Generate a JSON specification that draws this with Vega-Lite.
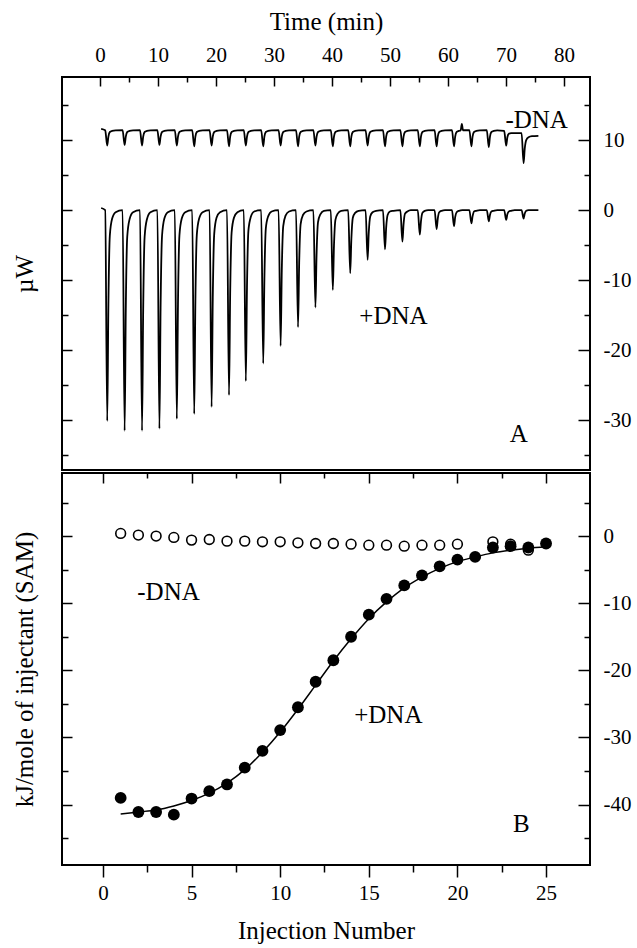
{
  "$schema": "https://vega.github.io/schema/vega-lite/v6.json",
  "background": "white",
  "padding": {"left": 11, "top": 8, "right": 5, "bottom": 0},
  "spacing": 0,
  "config": {
    "view": {"stroke": "black", "strokeWidth": 2},
    "font": "Liberation Serif",
    "axis": {"domain": false, "grid": false, "labelFont": "Liberation Serif", "titleFont": "Liberation Serif", "labelFontSize": 21, "titleFontSize": 25, "titleFontWeight": "normal", "labelColor": "black", "titleColor": "black", "tickColor": "black", "tickWidth": 1.5, "labelFlush": false, "labelOverlap": false}
  },
  "datasets": {
    "plus": [
      {"t":0.2,"v":0.3},
      {"t":0.9,"v":0},{"t":1.25,"v":-30.1},{"t":1.45,"v":-13.5},{"t":1.7,"v":-3.6},{"t":2.1,"v":-1.2},{"t":2.7,"v":-0.3},
      {"t":3.9,"v":0},{"t":4.25,"v":-31.5},{"t":4.45,"v":-14.2},{"t":4.7,"v":-3.8},{"t":5.1,"v":-1.3},{"t":5.7,"v":-0.3},
      {"t":6.9,"v":0},{"t":7.25,"v":-31.5},{"t":7.45,"v":-14.2},{"t":7.7,"v":-3.8},{"t":8.1,"v":-1.3},{"t":8.7,"v":-0.3},
      {"t":9.9,"v":0},{"t":10.25,"v":-31.2},{"t":10.45,"v":-14.0},{"t":10.7,"v":-3.7},{"t":11.1,"v":-1.2},{"t":11.7,"v":-0.3},
      {"t":12.9,"v":0},{"t":13.25,"v":-29.8},{"t":13.45,"v":-13.4},{"t":13.7,"v":-3.6},{"t":14.1,"v":-1.2},{"t":14.7,"v":-0.3},
      {"t":15.9,"v":0},{"t":16.25,"v":-29.1},{"t":16.45,"v":-13.1},{"t":16.7,"v":-3.5},{"t":17.1,"v":-1.2},{"t":17.7,"v":-0.3},
      {"t":18.9,"v":0},{"t":19.25,"v":-28.1},{"t":19.45,"v":-12.6},{"t":19.7,"v":-3.4},{"t":20.1,"v":-1.1},{"t":20.7,"v":-0.3},
      {"t":21.9,"v":0},{"t":22.25,"v":-26.4},{"t":22.45,"v":-11.9},{"t":22.7,"v":-3.2},{"t":23.1,"v":-1.1},{"t":23.7,"v":-0.3},
      {"t":24.8,"v":0},{"t":25.15,"v":-24.4},{"t":25.35,"v":-11.0},{"t":25.6,"v":-2.9},{"t":26.0,"v":-1.0},{"t":26.6,"v":-0.2},
      {"t":27.8,"v":0},{"t":28.15,"v":-21.9},{"t":28.35,"v":-9.9},{"t":28.6,"v":-2.6},{"t":29.0,"v":-0.9},{"t":29.6,"v":-0.2},
      {"t":30.8,"v":0},{"t":31.15,"v":-19.4},{"t":31.35,"v":-8.7},{"t":31.6,"v":-2.3},{"t":32.0,"v":-0.8},{"t":32.6,"v":-0.2},
      {"t":33.8,"v":0},{"t":34.15,"v":-16.7},{"t":34.35,"v":-7.5},{"t":34.6,"v":-2.0},{"t":35.0,"v":-0.7},{"t":35.6,"v":-0.2},
      {"t":36.8,"v":0},{"t":37.15,"v":-13.9},{"t":37.35,"v":-6.3},{"t":37.6,"v":-1.7},{"t":38.0,"v":-0.6},{"t":38.6,"v":-0.1},
      {"t":39.8,"v":0},{"t":40.15,"v":-11.4},{"t":40.35,"v":-5.1},{"t":40.6,"v":-1.4},{"t":41.0,"v":-0.5},{"t":41.6,"v":-0.1},
      {"t":42.8,"v":0},{"t":43.15,"v":-9.0},{"t":43.35,"v":-4.1},{"t":43.6,"v":-1.1},{"t":44.0,"v":-0.4},{"t":44.6,"v":-0.1},
      {"t":45.8,"v":0},{"t":46.15,"v":-7.1},{"t":46.35,"v":-3.2},{"t":46.6,"v":-0.9},{"t":47.0,"v":-0.3},{"t":47.6,"v":-0.1},
      {"t":48.8,"v":0},{"t":49.15,"v":-5.6},{"t":49.35,"v":-2.5},{"t":49.6,"v":-0.7},{"t":50.0,"v":-0.2},{"t":50.6,"v":-0.1},
      {"t":51.8,"v":0},{"t":52.15,"v":-4.5},{"t":52.35,"v":-2.0},{"t":52.6,"v":-0.5},{"t":53.0,"v":-0.2},{"t":53.6,"v":0},
      {"t":54.8,"v":0},{"t":55.15,"v":-3.5},{"t":55.35,"v":-1.6},{"t":55.6,"v":-0.4},{"t":56.0,"v":-0.1},{"t":56.6,"v":0},
      {"t":57.7,"v":0},{"t":58.05,"v":-2.7},{"t":58.25,"v":-1.2},{"t":58.5,"v":-0.3},{"t":58.9,"v":-0.1},{"t":59.5,"v":0},
      {"t":60.7,"v":0},{"t":61.05,"v":-2.3},{"t":61.25,"v":-1.0},{"t":61.5,"v":-0.3},{"t":61.9,"v":-0.1},{"t":62.5,"v":0},
      {"t":63.7,"v":0},{"t":64.05,"v":-1.9},{"t":64.25,"v":-0.9},{"t":64.5,"v":-0.2},{"t":64.9,"v":-0.1},{"t":65.5,"v":0},
      {"t":66.7,"v":0},{"t":67.05,"v":-1.6},{"t":67.25,"v":-0.7},{"t":67.5,"v":-0.2},{"t":67.9,"v":-0.1},{"t":68.5,"v":0},
      {"t":69.7,"v":0},{"t":70.05,"v":-1.4},{"t":70.25,"v":-0.6},{"t":70.5,"v":-0.2},{"t":70.9,"v":-0.1},{"t":71.5,"v":0},
      {"t":72.7,"v":0},{"t":73.05,"v":-1.2},{"t":73.25,"v":-0.5},{"t":73.5,"v":-0.1},{"t":73.9,"v":0},
      {"t":75.6,"v":0}
    ],
    "minus": [
      {"t":0.2,"v":11.6},
      {"t":0.9,"v":11.4},{"t":1.25,"v":9.2},{"t":1.45,"v":10.5},{"t":1.7,"v":11.15},{"t":2.1,"v":11.3},{"t":2.7,"v":11.38},
      {"t":3.9,"v":11.4},{"t":4.25,"v":9.3},{"t":4.45,"v":10.5},{"t":4.7,"v":11.15},{"t":5.1,"v":11.3},{"t":5.7,"v":11.38},
      {"t":6.9,"v":11.4},{"t":7.25,"v":9.2},{"t":7.45,"v":10.5},{"t":7.7,"v":11.15},{"t":8.1,"v":11.3},{"t":8.7,"v":11.38},
      {"t":9.9,"v":11.4},{"t":10.25,"v":9.3},{"t":10.45,"v":10.5},{"t":10.7,"v":11.15},{"t":11.1,"v":11.3},{"t":11.7,"v":11.38},
      {"t":12.9,"v":11.4},{"t":13.25,"v":9.2},{"t":13.45,"v":10.5},{"t":13.7,"v":11.15},{"t":14.1,"v":11.3},{"t":14.7,"v":11.38},
      {"t":15.9,"v":11.4},{"t":16.25,"v":9.1},{"t":16.45,"v":10.5},{"t":16.7,"v":11.15},{"t":17.1,"v":11.3},{"t":17.7,"v":11.38},
      {"t":18.9,"v":11.4},{"t":19.25,"v":9.2},{"t":19.45,"v":10.5},{"t":19.7,"v":11.15},{"t":20.1,"v":11.3},{"t":20.7,"v":11.38},
      {"t":21.9,"v":11.4},{"t":22.25,"v":9.1},{"t":22.45,"v":10.5},{"t":22.7,"v":11.15},{"t":23.1,"v":11.3},{"t":23.7,"v":11.38},
      {"t":24.8,"v":11.4},{"t":25.15,"v":9.2},{"t":25.35,"v":10.5},{"t":25.6,"v":11.15},{"t":26.0,"v":11.3},{"t":26.6,"v":11.38},
      {"t":27.8,"v":11.4},{"t":28.15,"v":9.1},{"t":28.35,"v":10.5},{"t":28.6,"v":11.15},{"t":29.0,"v":11.3},{"t":29.6,"v":11.38},
      {"t":30.8,"v":11.4},{"t":31.15,"v":9.2},{"t":31.35,"v":10.5},{"t":31.6,"v":11.15},{"t":32.0,"v":11.3},{"t":32.6,"v":11.38},
      {"t":33.8,"v":11.4},{"t":34.15,"v":9.1},{"t":34.35,"v":10.5},{"t":34.6,"v":11.15},{"t":35.0,"v":11.3},{"t":35.6,"v":11.38},
      {"t":36.8,"v":11.4},{"t":37.15,"v":9.2},{"t":37.35,"v":10.5},{"t":37.6,"v":11.15},{"t":38.0,"v":11.3},{"t":38.6,"v":11.38},
      {"t":39.8,"v":11.4},{"t":40.15,"v":9.1},{"t":40.35,"v":10.5},{"t":40.6,"v":11.15},{"t":41.0,"v":11.3},{"t":41.6,"v":11.38},
      {"t":42.8,"v":11.4},{"t":43.15,"v":9.1},{"t":43.35,"v":10.5},{"t":43.6,"v":11.15},{"t":44.0,"v":11.3},{"t":44.6,"v":11.38},
      {"t":45.8,"v":11.4},{"t":46.15,"v":9.2},{"t":46.35,"v":10.5},{"t":46.6,"v":11.15},{"t":47.0,"v":11.3},{"t":47.6,"v":11.38},
      {"t":48.8,"v":11.4},{"t":49.15,"v":9.1},{"t":49.35,"v":10.5},{"t":49.6,"v":11.15},{"t":50.0,"v":11.3},{"t":50.6,"v":11.38},
      {"t":51.8,"v":11.4},{"t":52.15,"v":9.1},{"t":52.35,"v":10.5},{"t":52.6,"v":11.15},{"t":53.0,"v":11.3},{"t":53.6,"v":11.38},
      {"t":54.8,"v":11.4},{"t":55.15,"v":9.1},{"t":55.35,"v":10.5},{"t":55.6,"v":11.15},{"t":56.0,"v":11.3},{"t":56.6,"v":11.38},
      {"t":57.7,"v":11.4},{"t":58.05,"v":9.1},{"t":58.25,"v":10.5},{"t":58.5,"v":11.15},{"t":58.9,"v":11.3},{"t":59.5,"v":11.38},
      {"t":60.7,"v":11.4},{"t":61.05,"v":9.1},{"t":61.25,"v":10.5},{"t":61.5,"v":11.15},{"t":61.9,"v":11.3},{"t":62.2,"v":11.4},{"t":62.4,"v":12.3},{"t":62.6,"v":11.4},
      {"t":63.7,"v":11.4},{"t":64.05,"v":9.1},{"t":64.25,"v":10.5},{"t":64.5,"v":11.15},{"t":64.9,"v":11.3},{"t":65.5,"v":11.38},
      {"t":66.7,"v":11.4},{"t":67.05,"v":9.0},{"t":67.25,"v":10.5},{"t":67.5,"v":11.15},{"t":67.9,"v":11.3},{"t":68.5,"v":11.38},
      {"t":69.7,"v":11.3},{"t":70.05,"v":9.2},{"t":70.25,"v":10.4},{"t":70.5,"v":10.9},{"t":70.9,"v":11.0},{"t":71.5,"v":11.0},
      {"t":72.7,"v":11.0},{"t":73.05,"v":6.7},{"t":73.25,"v":8.8},{"t":73.5,"v":10.0},{"t":73.9,"v":10.4},{"t":74.5,"v":10.55},
      {"t":75.6,"v":10.6}
    ],
    "open": [
      {"n":1,"v":0.4},{"n":2,"v":0.15},{"n":3,"v":0.0},{"n":4,"v":-0.2},{"n":5,"v":-0.6},{"n":6,"v":-0.5},
      {"n":7,"v":-0.75},{"n":8,"v":-0.75},{"n":9,"v":-0.85},{"n":10,"v":-0.85},{"n":11,"v":-1.0},{"n":12,"v":-1.1},
      {"n":13,"v":-1.1},{"n":14,"v":-1.2},{"n":15,"v":-1.35},{"n":16,"v":-1.35},{"n":17,"v":-1.5},{"n":18,"v":-1.35},
      {"n":19,"v":-1.35},{"n":20,"v":-1.2},{"n":22,"v":-0.85},{"n":23,"v":-1.2},{"n":24,"v":-2.1}
    ],
    "filled": [
      {"n":1,"v":-39.0},{"n":2,"v":-41.1},{"n":3,"v":-41.1},{"n":4,"v":-41.5},{"n":5,"v":-39.1},
      {"n":6,"v":-38.0},{"n":7,"v":-37.0},{"n":8,"v":-34.5},{"n":9,"v":-32.0},{"n":10,"v":-28.9},
      {"n":11,"v":-25.5},{"n":12,"v":-21.7},{"n":13,"v":-18.5},{"n":14,"v":-15.0},{"n":15,"v":-11.7},
      {"n":16,"v":-9.35},{"n":17,"v":-7.35},{"n":18,"v":-5.85},{"n":19,"v":-4.5},{"n":20,"v":-3.5},
      {"n":21,"v":-3.1},{"n":22,"v":-1.7},{"n":23,"v":-1.5},{"n":24,"v":-1.7},{"n":25,"v":-1.1}
    ],
    "fit": [
      {"n":1,"v":-41.4},{"n":2,"v":-41.1},{"n":3,"v":-40.8},{"n":4,"v":-40.2},{"n":5,"v":-39.4},
      {"n":6,"v":-38.3},{"n":7,"v":-36.8},{"n":8,"v":-34.8},{"n":9,"v":-32.2},{"n":10,"v":-29.2},
      {"n":11,"v":-25.8},{"n":12,"v":-22.2},{"n":13,"v":-18.6},{"n":14,"v":-15.3},{"n":15,"v":-12.3},
      {"n":16,"v":-9.8},{"n":17,"v":-7.7},{"n":18,"v":-6.1},{"n":19,"v":-4.8},{"n":20,"v":-3.8},
      {"n":21,"v":-3.1},{"n":22,"v":-2.5},{"n":23,"v":-2.1},{"n":24,"v":-1.8},{"n":25,"v":-1.6}
    ]
  },
  "vconcat": [
    {
      "width": 528,
      "height": 393,
      "layer": [
        {
          "data": {"name": "plus"},
          "mark": {"type": "line", "color": "black", "strokeWidth": 1.8, "interpolate": "monotone"},
          "encoding": {
            "x": {"field": "t", "type": "quantitative", "scale": {"domain": [-6.55, 84.5], "nice": false, "zero": false},
                  "axis": {"orient": "top", "values": [0,10,20,30,40,50,60,70,80], "title": "Time (min)", "tickSize": -9, "labelPadding": 21, "titlePadding": 10}},
            "y": {"field": "v", "type": "quantitative", "scale": {"domain": [-37.1, 19.0], "nice": false, "zero": false},
                  "axis": {"orient": "right", "values": [10,0,-10,-20,-30], "title": null, "tickSize": -12, "labelPadding": 25, "labelExpr": "'' + datum.value"}}
          }
        },
        {
          "data": {"name": "minus"},
          "mark": {"type": "line", "color": "black", "strokeWidth": 1.8, "interpolate": "monotone"},
          "encoding": {
            "x": {"field": "t", "type": "quantitative",
                  "axis": {"orient": "top", "values": [5,15,25,35,45,55,65,75], "labels": false, "tickSize": -5, "title": null}},
            "y": {"field": "v", "type": "quantitative",
                  "axis": {"orient": "right", "values": [15,5,-5,-15,-25,-35], "labels": false, "tickSize": -6, "title": null}}
          }
        },
        {
          "data": {"values": [{"x": 75.3, "y": 12.8, "s": "-DNA"}, {"x": 50.6, "y": -15.1, "s": "+DNA"}]},
          "mark": {"type": "text", "fontSize": 25, "font": "Liberation Serif", "color": "black"},
          "encoding": {
            "x": {"field": "x", "type": "quantitative", "axis": null},
            "y": {"field": "y", "type": "quantitative",
                  "axis": {"orient": "left", "values": [10,0,-10,-20,-30], "labels": false, "tickSize": -10, "title": "µW", "titlePadding": 24}},
            "text": {"field": "s"}
          }
        },
        {
          "data": {"values": [{"x": 72.2, "y": -32.0, "s": "A"}]},
          "mark": {"type": "text", "fontSize": 25, "font": "Liberation Serif", "color": "black"},
          "encoding": {
            "x": {"field": "x", "type": "quantitative", "axis": null},
            "y": {"field": "y", "type": "quantitative",
                  "axis": {"orient": "left", "values": [15,5,-5,-15,-25,-35], "labels": false, "tickSize": -6, "title": null}},
            "text": {"field": "s"}
          }
        }
      ],
      "resolve": {"axis": {"x": "independent", "y": "independent"}}
    },
    {
      "width": 528,
      "height": 392,
      "layer": [
        {
          "data": {"name": "open"},
          "mark": {"type": "point", "shape": "circle", "filled": false, "size": 95, "strokeWidth": 1.6, "color": "black", "opacity": 1},
          "encoding": {
            "x": {"field": "n", "type": "quantitative", "scale": {"domain": [-2.31, 27.48], "nice": false, "zero": false},
                  "axis": {"orient": "top", "values": [0,5,10,15,20,25], "labels": false, "tickSize": -10, "title": null}},
            "y": {"field": "v", "type": "quantitative", "scale": {"domain": [-49.0, 9.4], "nice": false, "zero": false},
                  "axis": {"orient": "left", "values": [0,-10,-20,-30,-40], "labels": false, "tickSize": -10, "title": "kJ/mole of injectant (SAM)", "titlePadding": 24}}
          }
        },
        {
          "data": {"name": "fit"},
          "mark": {"type": "line", "color": "black", "strokeWidth": 1.5, "interpolate": "monotone"},
          "encoding": {
            "x": {"field": "n", "type": "quantitative",
                  "axis": {"orient": "top", "values": [2.5,7.5,12.5,17.5,22.5], "labels": false, "tickSize": -5, "title": null}},
            "y": {"field": "v", "type": "quantitative",
                  "axis": {"orient": "left", "values": [5,-5,-15,-25,-35,-45], "labels": false, "tickSize": -6, "title": null}}
          }
        },
        {
          "data": {"name": "filled"},
          "mark": {"type": "point", "shape": "circle", "filled": true, "size": 140, "color": "black", "opacity": 1},
          "encoding": {
            "x": {"field": "n", "type": "quantitative",
                  "axis": {"orient": "bottom", "values": [0,5,10,15,20,25], "tickSize": 12, "labelPadding": 5, "title": "Injection Number", "titlePadding": 15}},
            "y": {"field": "v", "type": "quantitative",
                  "axis": {"orient": "right", "values": [0,-10,-20,-30,-40], "tickSize": -12, "labelPadding": 25, "title": null, "labelExpr": "'' + datum.value"}}
          }
        },
        {
          "data": {"values": [{"x": 3.7, "y": -8.4, "s": "-DNA"}, {"x": 16.1, "y": -26.7, "s": "+DNA"}, {"x": 23.6, "y": -42.9, "s": "B"}]},
          "mark": {"type": "text", "fontSize": 25, "font": "Liberation Serif", "color": "black"},
          "encoding": {
            "x": {"field": "x", "type": "quantitative",
                  "axis": {"orient": "bottom", "values": [2.5,7.5,12.5,17.5,22.5], "labels": false, "tickSize": 7, "title": null}},
            "y": {"field": "y", "type": "quantitative",
                  "axis": {"orient": "right", "values": [5,-5,-15,-25,-35,-45], "labels": false, "tickSize": -6, "title": null}},
            "text": {"field": "s"}
          }
        }
      ],
      "resolve": {"axis": {"x": "independent", "y": "independent"}}
    }
  ]
}
